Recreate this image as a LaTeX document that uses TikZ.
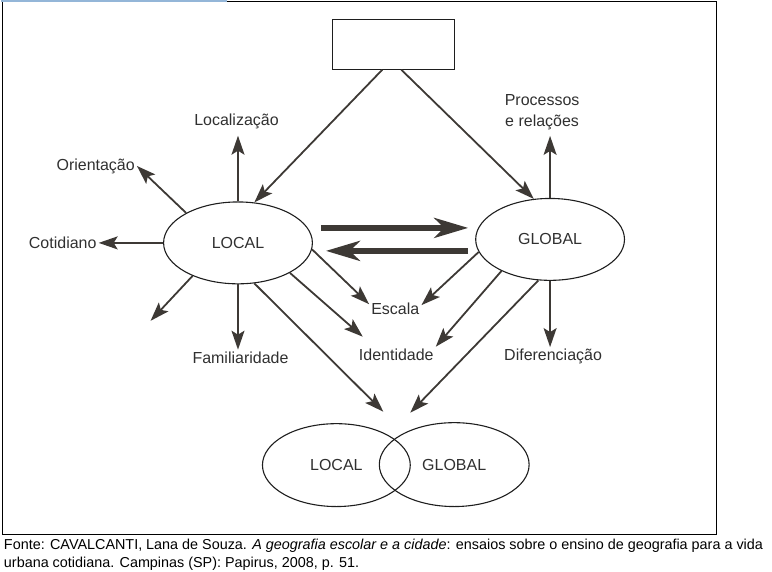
\documentclass[tikz,border=0pt]{standalone}
\usepackage{fontspec}
\setmainfont{Liberation Sans}
\usetikzlibrary{arrows.meta,shapes.geometric}

\definecolor{linha}{HTML}{3D3935}
\definecolor{contorno}{HTML}{1E1E1E}
\definecolor{texto}{HTML}{303030}
\definecolor{selecao}{HTML}{94B6D8}

\begin{document}
\begin{tikzpicture}[x=1pt, y=-1pt, font=\fontsize{16}{19}\selectfont,
    elipse/.style={draw=contorno, line width=1.1pt, ellipse, inner sep=0pt,
        minimum width=149pt, minimum height=82pt, text=texto},
    rotulo/.style={text=texto, inner sep=2pt},
    seta/.style={draw=linha, line width=1.8pt,
        -{Stealth[length=19pt, width=13pt, inset=4pt]}},
    grossa/.style={draw=linha, line width=5.5pt,
        -{Stealth[length=34pt, width=20pt, inset=10pt]}}]
    \draw [white] (0, 0) rectangle (772, 570); % bounding box

    \draw [line width=1.2pt] (2, 1) rectangle (717, 535); % frame
    \draw [selecao, line width=1.6pt] (0, 0.8) -- (226, 0.8); % selection mark

    % source
    \node at (2, 538) [anchor=north west, align=left, inner sep=1pt,
        font=\fontsize{14.4}{18}\selectfont] (fonte)
        {Fonte: CAVALCANTI, Lana de Souza. \textit{A geografia escolar e a cidade}: ensaios sobre o ensino de geografia para a vida\\
         urbana cotidiana. Campinas (SP): Papirus, 2008, p. 51.};

    % empty box
    \node at (393, 44) [draw=contorno, line width=1.2pt, minimum width=122pt, minimum height=50pt] (topo) {};

    % ellipses
    \begin{scope}[every node/.style={elipse}]
        \node at (237.5, 243)   (local)   {LOCAL};
        \node at (550,   239.5) (global)  {GLOBAL};
        \node at (336,   465.5) [minimum width=148pt, minimum height=83pt] (localb)  {LOCAL};
        \node at (454,   465)   [minimum width=150pt, minimum height=84pt] (globalb) {GLOBAL};
    \end{scope}

    % labels
    \begin{scope}[every node/.style={rotulo}]
        \node at (236, 121) (localizacao)   {Localização};
        \node at ( 95, 166) (orientacao)    {Orientação};
        \node at ( 62, 243) (cotidiano)     {Cotidiano};
        \node at (240, 358) (familiaridade) {Familiaridade};
        \node at (395, 309) (escala)        {Escala};
        \node at (396, 355) (identidade)    {Identidade};
        \node at (542, 112) [align=center] (processos) {Processos\\[2pt]e relações};
        \node at (553, 357) (diferenciacao) {Diferenciação};
    \end{scope}

    % free ends
    \coordinate (sudoeste)  at (150, 321);
    \coordinate (encontroa) at (383, 412);
    \coordinate (encontrob) at (410, 413);

    % arrows
    \begin{scope}[every path/.style={seta}]
        \draw ([xshift=-11pt]topo.south) -- (local.68);
        \draw ([xshift=8pt]topo.south)   -- (global.112);

        \draw [shorten >=5pt] (local.north) -- (local.north |- localizacao.south);
        \draw (local.150)   -- (orientacao.east);
        \draw (local.west)  -- (cotidiano.east);
        \draw (local.216)   -- (sudoeste);
        \draw (local.south) -- (local.south |- familiaridade.north);
        \draw (local.-5)    -- (escala.170);
        \draw (local.-30)   -- ([shift={(6pt,10pt)}]identidade.north west);
        \draw (local.-68)   -- (encontroa);

        \draw [shorten >=4pt] (global.north) -- (global.north |- processos.south);
        \draw (global.south) -- (global.south |- diferenciacao.north);
        \draw (global.190)   -- (escala.8);
        \draw (global.213)   -- (identidade.north east);
        \draw (global.254)   -- (encontrob);
    \end{scope}

    % exchange
    \begin{scope}[every path/.style={grossa}]
        \draw ([shift={(8pt,15pt)}]local.east)     -- ([shift={(-7pt,11.5pt)}]global.west);
        \draw ([shift={(-7pt,-11.5pt)}]global.west) -- ([shift={(13pt,-8pt)}]local.east);
    \end{scope}
\end{tikzpicture}
\end{document}
